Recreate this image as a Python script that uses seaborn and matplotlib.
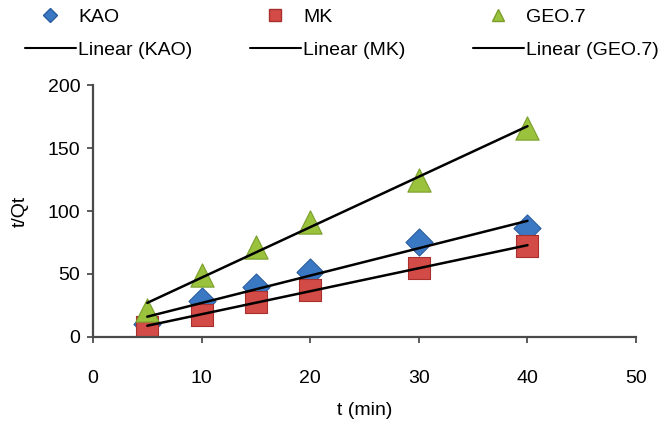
import numpy as np
import pandas as pd
import seaborn as sns
import matplotlib
matplotlib.use("Agg")
import matplotlib.pyplot as plt
from matplotlib.lines import Line2D

t_min = [5, 10, 15, 20, 30, 40]
kao = [10, 28.5, 40, 51.5, 75.5, 86.5]
mk = [8, 17.5, 28, 37, 55, 72]
geo7 = [21, 49, 71, 91, 125, 166]
series_names = ["KAO", "MK", "GEO.7"]
x_ticks = [0, 10, 20, 30, 40, 50]
y_ticks = [0, 50, 100, 150, 200]

sns.set_theme(style="white")
plt.rcParams['font.family'] = ['Liberation Sans', 'DejaVu Sans']
plt.rcParams['text.color'] = 'black'
plt.rcParams['axes.labelcolor'] = 'black'
plt.rcParams['xtick.labelcolor'] = 'black'
plt.rcParams['ytick.labelcolor'] = 'black'

df = pd.DataFrame({"t": t_min * 3,
                   "v": kao + mk + geo7,
                   "s": sum([[n] * len(t_min) for n in series_names], [])})

fig = plt.figure(figsize=(6.64, 4.28), dpi=100)
ax = fig.add_axes([0.140, 0.213, 0.818, 0.588])

styles = {
    "KAO": dict(marker="D", color="#3a78c4", ec="#2a5d9e", s=190, ms=7),
    "MK": dict(marker="s", color="#d34b46", ec="#a8302c", s=260, ms=8.5),
    "GEO.7": dict(marker="^", color="#9bc23c", ec="#7a9e2a", s=280, ms=9),
}

for name in series_names:
    st = styles[name]
    sub = df[df["s"] == name]
    sns.scatterplot(data=sub, x="t", y="v", marker=st["marker"], color=st["color"],
                    edgecolor=st["ec"], linewidth=0.8, s=st["s"], ax=ax, zorder=2,
                    legend=False)
for name in series_names:
    sub = df[df["s"] == name]
    sns.regplot(data=sub, x="t", y="v", scatter=False, ci=None, ax=ax,
                line_kws=dict(color="black", lw=1.8, zorder=3))

# legends: three columns placed like the reference
col_x = [25 / 664, 250 / 664, 473 / 664]
for name, cx in zip(series_names, col_x):
    st = styles[name]
    h = [Line2D([], [], marker=st["marker"], color=st["color"],
                markeredgecolor=st["ec"], linestyle="none", markersize=st["ms"]),
         Line2D([], [], color="black", lw=1.5)]
    fig.legend(h, [name, f"Linear ({name})"], loc="upper left",
               bbox_to_anchor=(cx, 0.981), frameon=False, fontsize=14,
               handlelength=2.6, handletextpad=0.15, labelspacing=0.8,
               borderpad=0.0, borderaxespad=0.0)

ax.set_xlim(0, 50)
ax.set_ylim(0, 200)
ax.set_xticks(x_ticks)
ax.set_yticks(y_ticks)
ax.set_xlabel("t (min)", fontsize=14)
ax.set_ylabel("t/Qt", fontsize=14)
ax.xaxis.set_label_coords(0.5, -0.26)
ax.yaxis.set_label_coords(-0.118, 0.5)
ax.tick_params(axis="both", labelsize=14, length=4, width=1.2, color="#404040",
               direction="out", bottom=True, left=True, labelcolor="black")
ax.tick_params(axis="x", pad=20)
ax.tick_params(axis="y", pad=5)
for sp in ["top", "right"]:
    ax.spines[sp].set_visible(False)
for sp in ["left", "bottom"]:
    ax.spines[sp].set_color("#4a4a4a")
    ax.spines[sp].set_linewidth(1.6)

fig.savefig("out.png", dpi=100)
